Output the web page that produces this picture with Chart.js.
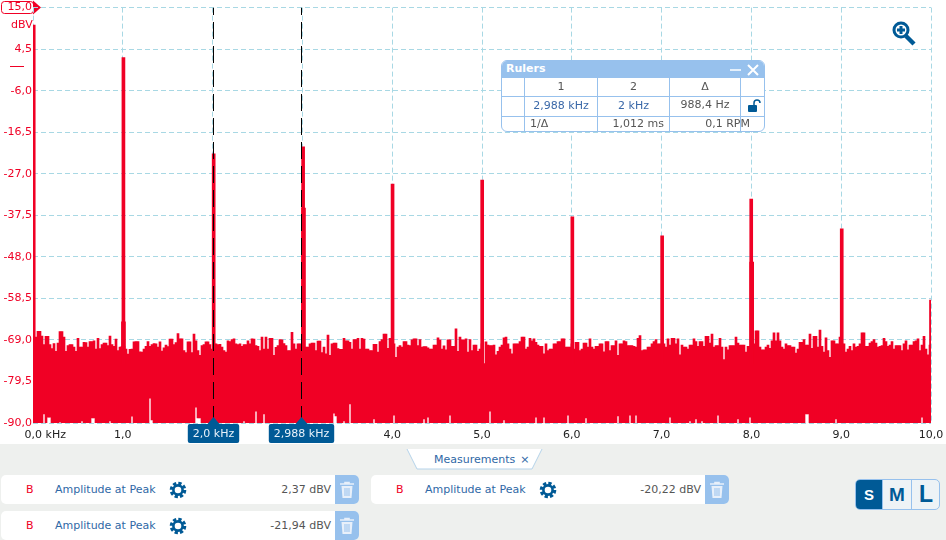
<!DOCTYPE html>
<html>
<head>
<meta charset="utf-8">
<title>Spectrum</title>
<script src="https://cdn.jsdelivr.net/npm/chart.js@4/dist/chart.umd.min.js"></script>
<style>
  html, body { margin: 0; padding: 0; }
  body { width: 946px; height: 540px; overflow: hidden; position: relative; background: #fff; font-family: "DejaVu Sans", sans-serif; font-size: 11px; }
  canvas { position: absolute; left: 0; top: 0; }
  .abs { position: absolute; }
  #footer { left: 0; top: 444px; width: 946px; height: 96px; background: #eef0ee; }
  .card { position: absolute; width: 358px; height: 29px; background: #fff; border-radius: 5px; line-height: 29px; }
  .card .ch { position: absolute; left: 25px; color: #f00025; }
  .card .name { position: absolute; left: 54px; color: #2f68a6; }
  .card .val { position: absolute; right: 28px; color: #555; }
  .card .del { position: absolute; right: 0; top: 0; width: 24px; height: 29px; background: #97c1ed; border-radius: 0 5px 5px 0; }
  .card svg { position: absolute; }
  #rulers { left: 501px; top: 60px; width: 262px; height: 70px; background: #fff; border: 1px solid #97c1ed; border-radius: 6px; overflow: hidden; color: #555; }
  #rulers .head { position: absolute; left: 0; top: 0; width: 262px; height: 17px; background: #97c1ed; color: #fff; font-weight: bold; line-height: 16px; padding-left: 4px; font-size: 11px; }
  #rulers .v { position: absolute; top: 16px; width: 1px; height: 54px; background: #97c1ed; }
  #rulers .h { position: absolute; left: 0; width: 262px; height: 1px; background: #97c1ed; }
  #rulers .t { position: absolute; text-align: center; line-height: 16px; white-space: nowrap; }
  #sml { left: 855px; top: 479px; width: 83px; height: 29px; border: 1px solid #97c1ed; border-radius: 5px; overflow: hidden; background: #eef3f6; font-family: "Liberation Sans", sans-serif; font-weight: bold; color: #005a96; }
  #sml div { position: absolute; top: 0; height: 29px; text-align: center; line-height: 29px; }
</style>
</head>
<body>
<canvas id="spectrum" width="946" height="444"></canvas>

<div class="abs" style="left:11px;top:18px;color:#f00025;font-size:11px;">dBV</div>
<div class="abs" style="left:10px;top:66px;width:14px;height:1px;background:#f00025;"></div>

<svg class="abs" style="left:890px;top:20px;" width="28" height="28" viewBox="0 0 28 28">
  <line x1="16" y1="16" x2="24" y2="24" stroke="#005a96" stroke-width="4.5"/>
  <circle cx="11" cy="10" r="7" fill="#fff" stroke="#005a96" stroke-width="3"/>
  <path d="M7 10h8M11 6v8" stroke="#005a96" stroke-width="3"/>
</svg>

<div id="rulers" class="abs">
  <div class="head">Rulers</div>
  <svg class="abs" style="left:227px;top:2px;" width="34" height="14" viewBox="0 0 34 14">
    <line x1="1" y1="7" x2="12" y2="7" stroke="#fff" stroke-width="1.5"/>
    <path d="M19 2l10 10M29 2l-10 10" stroke="#fff" stroke-width="2"/>
  </svg>
  <div class="h" style="top:35px;"></div>
  <div class="h" style="top:55px;"></div>
  <div class="v" style="left:22px;"></div>
  <div class="v" style="left:95px;"></div>
  <div class="v" style="left:167px;"></div>
  <div class="v" style="left:238px;"></div>
  <div class="t" style="left:23px;width:72px;top:18px;">1</div>
  <div class="t" style="left:96px;width:71px;top:18px;">2</div>
  <div class="t" style="left:168px;width:70px;top:18px;">Δ</div>
  <div class="t" style="left:23px;width:72px;top:37px;color:#3a68a8;">2,988 kHz</div>
  <div class="t" style="left:96px;width:71px;top:37px;color:#3a68a8;">2 kHz</div>
  <div class="t" style="left:168px;width:70px;top:36px;">988,4 Hz</div>
  <svg class="abs" style="left:245px;top:38px;" width="14" height="14" viewBox="0 0 14 14">
    <path d="M7 7V4a3 3 0 0 1 6 0" fill="none" stroke="#005a96" stroke-width="1.5"/>
    <rect x="1" y="6" width="9" height="7" rx="1" fill="#005a96"/>
  </svg>
  <div class="t" style="left:28px;top:55px;">1/Δ</div>
  <div class="t" style="right:100px;top:55px;">1,012 ms</div>
  <div class="t" style="right:14px;top:55px;">0,1 RPM</div>
</div>

<div id="footer" class="abs"></div>

<svg class="abs" style="left:405px;top:448px;" width="140" height="23" viewBox="0 0 140 23">
  <path d="M2 1L12 21H127L137 1Z" fill="#fff"/>
  <path d="M2 1L12 21H127L137 1" fill="none" stroke="#b5d3ea" stroke-width="1"/>
</svg>
<div class="abs" style="left:434px;top:453px;color:#2f68a6;white-space:nowrap;">Measurements<span style="margin-left:5px;">×</span></div>

<div id="cards"></div>

<div id="sml" class="abs">
  <div style="left:0;width:26px;background:#005a96;color:#fff;font-size:15px;">S</div>
  <div style="left:26px;width:28px;border-left:1px solid #97c1ed;font-size:19px;">M</div>
  <div style="left:55px;width:28px;border-left:1px solid #97c1ed;font-size:23px;">L</div>
</div>

<script>
// y axis, dBV
const yTickValues = [15, 4.5, -6, -16.5, -27, -37.5, -48, -58.5, -69, -79.5, -90];
const xTickValues = [0, 1, 2, 3, 4, 5, 6, 7, 8, 9, 10];

// tops of the noise floor, one bin every 10/449 kHz
const noiseHigh = [
  -71,-68.3,-66.8,-66.8,-68,-70.2,-68.1,-68.1,-70.2,-71.2,
  -69.9,-71.9,-69.8,-66.9,-66.9,-68.3,-71.9,-70.4,-70.2,-70.2,
  -70.8,-71.9,-68.6,-70.8,-70.8,-69.6,-69.7,-70.8,-69.4,-69.4,
  -69.2,-71.3,-68.6,-71.2,-70.2,-69.8,-69.8,-70.4,-68,-70.2,
  -70.6,-68.8,-71.7,-70.8,-70.6,-70.6,-71.3,-72.6,-71.4,-71.3,
  -69.5,-69.4,-69.4,-72,-72.1,-71.3,-70.6,-69.4,-70.6,-70.2,
  -69.9,-70,-70.8,-69.5,-71.8,-71,-70.3,-70.7,-68.8,-68.8,
  -70.2,-69.7,-67.4,-68.7,-68.7,-71.7,-72.2,-69.5,-69.5,-72.2,
  -67.5,-69.2,-71.7,-72.9,-70.4,-70.2,-69.5,-69.5,-70.2,-71.3,
  -70,-70,-70.2,-70.1,-70.8,-71.7,-72.1,-69.2,-69.4,-68.9,
  -68.7,-70,-70.2,-70,-70.6,-70.2,-70.2,-69.2,-70,-68.7,
  -68.8,-70.4,-70.6,-71.7,-68.3,-71.3,-68.3,-71.3,-68.6,-68.6,
  -72.9,-70.9,-70.4,-68.9,-69,-69.9,-70.4,-71.7,-71.7,-67.1,
  -70,-71.3,-70,-70,-70.8,-70.8,-70.8,-70.8,-70,-69.8,
  -69.8,-71.7,-69.3,-69.3,-72.2,-70.8,-72.5,-67.8,-72.9,-70,
  -69.8,-69.8,-71.2,-71.4,-71.4,-68.6,-69.2,-69.2,-69.6,-71.3,
  -68.9,-68.9,-68.6,-71.3,-68.6,-68.8,-71.3,-71.3,-71.7,-71.7,
  -70.1,-70.1,-72.1,-69.4,-68.9,-67.5,-67.5,-71.1,-68.6,-70,
  -70,-73.4,-70.8,-70.4,-70.8,-69.4,-69.4,-70.3,-70.4,-69,
  -68.7,-68.7,-70.4,-68.9,-70.8,-70.7,-70.7,-71,-71.3,-71.3,
  -70.3,-70.3,-68.5,-69,-71.3,-70.5,-71.5,-69,-69,-70.6,
  -70.6,-66.2,-71.9,-68.3,-69,-69,-68.7,-72.1,-68.9,-71.7,
  -70.3,-70.3,-71.9,-71.3,-70,-75,-69.5,-70.3,-70.4,-70.4,
  -70.3,-72.8,-71.9,-70.8,-70.3,-68.5,-68.3,-70,-71.3,-72.5,
  -70,-70,-70,-69.4,-68.3,-68.3,-71.3,-70.8,-68.6,-69.2,
  -68.7,-69.6,-70.3,-70.6,-70.6,-72.5,-70,-71.7,-71.3,-71.3,
  -70,-70,-69.4,-69.4,-68.7,-68.7,-70.8,-70.8,-70.8,-70,
  -71.3,-69.6,-69.6,-71.7,-71.3,-69.8,-69.8,-70.8,-68.7,-70.8,
  -71.3,-70.6,-70.6,-70,-70,-72,-69.4,-69.4,-71.7,-70.4,
  -70.4,-69.2,-72.9,-70,-70,-69.2,-69.4,-70.4,-70.4,-70.4,
  -70.6,-70.8,-68.6,-67.9,-71.7,-71.5,-71.5,-70.8,-70.8,-70,
  -69.4,-68.9,-70,-70,-70,-70,-70.8,-68.7,-70.3,-68.6,
  -68.6,-70,-68.7,-72.8,-70.3,-70.8,-70.8,-71.3,-70.3,-70.3,
  -68.7,-69.4,-70.6,-69.4,-69.4,-70.6,-68.1,-68.1,-69.8,-67.5,
  -70.8,-70.4,-70.4,-68.6,-70.8,-74,-70.8,-71.5,-70.4,-70.4,
  -70.4,-68.3,-69.8,-70.3,-70.3,-70.3,-72.1,-70.6,-70.6,-70,
  -70,-66.7,-66.7,-70.8,-71.5,-71.5,-70.8,-70.3,-71.1,-69.2,
  -67.2,-69.2,-67.2,-69.2,-70.8,-71.3,-70,-70.4,-70.4,-70.8,
  -70.8,-72.3,-71.3,-69.6,-69.6,-68.9,-70.3,-70.3,-67.5,-71.1,
  -68.1,-68.1,-70.8,-66.5,-70.6,-72.1,-68.5,-71.7,-73.4,-69.2,
  -69.2,-70,-70,-68.3,-70,-70,-72.1,-71.3,-70.6,-71.7,
  -70,-70.8,-70.6,-70,-67.2,-67.2,-70.6,-70.6,-69.8,-69.4,
  -68.9,-69.8,-70.8,-70.6,-70.4,-68.6,-69.4,-70.6,-70.3,-69.4,
  -71.3,-70.4,-70.4,-70.4,-71.7,-70,-69.2,-71.5,-70.3,-70.3,
  -69.4,-69.2,-68.7,-71.7,-70.3,-68.1,-71.3,-72.8,-70.3
];

// bins whose bottom does not reach -90
const dipBins = [5,7,8,13,24,29,30,38,49,58,59,81,82,83,105,111,115,150,151,155,158,170,180,195,197,208,228,235,251,255,267,276,292,298,301,318,328,331,334,342,352,358,386,387,401,444];
const dipLows = [-87.7,-88.5,-88.5,-89.7,-89.5,-88.7,-88.7,-89.5,-88.3,-83.7,-89.2,-86,-88.7,-88.7,-89.5,-87,-87.7,-87.5,-88.2,-89.5,-85.2,-89,-88,-89,-88.5,-88,-87,-89.2,-88.5,-88.5,-88,-88.7,-88.2,-88,-88,-88.5,-89.5,-89,-89.5,-88,-89,-88.5,-87.7,-87.7,-89,-88.5];

// harmonics
const peakFreqs = [0.008, 1.007, 2.012, 3.008, 4.004, 5.002, 6.006, 7.006, 7.998, 9.006, 10.0];
const peakValues = [10.6, 2.37, -21.94, -20.22, -29.6, -28.6, -37.9, -42.7, -33.4, -40.9, -58.9];
const shoulderFreqs = [1.007, 3.012, 8.003];
const shoulderValues = [-64.4, -35.7, -49.3];

// rulers
const rulerFreqs = [2.01, 2.99];
const rulerLabels = ['2,0 kHz', '2,988 kHz'];

// measurements panel
const measureValues = ['2,37 dBV', '-20,22 dBV', '-21,94 dBV'];
const measureLefts = [1, 371, 1];
const measureTops = [475, 475, 511];

const RED = '#f00025';
const BLUE = '#005a96';
const GRID = '#a8d8e4';
const binKHz = 10 / 449;

const noiseBars = noiseHigh.map((hi, i) => {
  const d = dipBins.indexOf(i);
  return { x: (i + 0.5) * binKHz, y: [d >= 0 ? dipLows[d] : -90, hi] };
});

function fmt(v) {
  return v.toFixed(1).replace('.', ',');
}

// red tag around the top tick, flags under the rulers
const overlayPlugin = {
  id: 'overlay',
  beforeDraw(chart) {
    const c = chart.ctx;
    c.save();
    c.strokeStyle = RED;
    c.fillStyle = RED;
    c.lineWidth = 1;
    c.beginPath();
    c.roundRect(1.5, 1.5, 32, 12, 3);
    c.stroke();
    c.beginPath();
    c.moveTo(33, 0.5);
    c.lineTo(41, 7.5);
    c.lineTo(33, 14.5);
    c.closePath();
    c.fill();
    c.restore();
  },
  afterDraw(chart) {
    const c = chart.ctx;
    c.save();
    c.font = '11px "DejaVu Sans"';
    c.textAlign = 'center';
    c.textBaseline = 'middle';
    rulerFreqs.forEach((f, i) => {
      const x = chart.scales.x.getPixelForValue(f);
      const w = c.measureText(rulerLabels[i]).width + 10;
      c.fillStyle = BLUE;
      c.beginPath();
      c.roundRect(x - w / 2, 424, w, 19, 2);
      c.fill();
      c.beginPath();
      c.moveTo(x, 417);
      c.lineTo(x - 6, 424);
      c.lineTo(x + 6, 424);
      c.closePath();
      c.fill();
      c.fillStyle = '#e8f2fa';
      c.fillText(rulerLabels[i], x, 434);
    });
    c.restore();
  }
};

new Chart(document.getElementById('spectrum').getContext('2d'), {
  type: 'bar',
  data: {
    datasets: [
      {
        label: 'Rulers',
        type: 'line',
        order: 0,
        data: [
          { x: rulerFreqs[0], y: -90 }, { x: rulerFreqs[0], y: 15 }, { x: NaN, y: NaN },
          { x: rulerFreqs[1], y: -90 }, { x: rulerFreqs[1], y: 15 }
        ],
        borderColor: '#000',
        borderWidth: 1,
        borderDash: [17, 7],
        pointRadius: 0,
        spanGaps: false
      },
      {
        label: 'Peaks',
        order: 1,
        data: peakFreqs.map((f, i) => ({ x: f, y: [-75, peakValues[i]] })),
        backgroundColor: RED,
        barThickness: 3
      },
      {
        label: 'Shoulders',
        order: 2,
        data: shoulderFreqs.map((f, i) => ({ x: f, y: [-75, shoulderValues[i]] })),
        backgroundColor: RED,
        barThickness: 4
      },
      {
        label: 'B',
        order: 3,
        data: noiseBars,
        backgroundColor: RED,
        barThickness: 2
      }
    ]
  },
  plugins: [overlayPlugin],
  options: {
    responsive: false,
    animation: false,
    grouped: false,
    layout: { padding: { left: 0, right: 15, top: 7, bottom: 0 } },
    plugins: { legend: { display: false }, tooltip: { enabled: false } },
    scales: {
      x: {
        type: 'linear',
        min: 0,
        max: 10,
        offset: false,
        afterBuildTicks(axis) { axis.ticks = xTickValues.map(v => ({ value: v })); },
        afterFit(axis) {
          axis.height = 21;
          axis.paddingLeft = 0;
          axis.paddingRight = 0;
        },
        grid: { color: GRID, lineWidth: 1, drawTicks: false, offset: false },
        border: { display: false, dash: [5, 3] },
        ticks: {
          autoSkip: false,
          maxRotation: 0,
          padding: 6,
          color: '#222',
          font: { family: '"DejaVu Sans"', size: 11 },
          callback: v => (v === 0 ? '       0,0 kHz' : fmt(v))
        }
      },
      y: {
        min: -90,
        max: 15,
        afterBuildTicks(axis) { axis.ticks = yTickValues.map(v => ({ value: v })); },
        afterFit(axis) { axis.width = 33; },
        grid: { color: GRID, lineWidth: 1, drawTicks: false },
        border: { display: false, dash: [5, 3] },
        ticks: {
          autoSkip: false,
          padding: 1,
          color: RED,
          font: { family: '"DejaVu Sans"', size: 11 },
          callback: v => fmt(v)
        }
      }
    }
  }
});

const gear = '<svg style="left:168px;top:6px;" width="18" height="18" viewBox="0 0 18 18"><circle cx="9" cy="9" r="6.6" fill="none" stroke="#005a96" stroke-width="3.4" stroke-dasharray="3.2 2"/><circle cx="9" cy="9" r="4.6" fill="none" stroke="#005a96" stroke-width="2.6"/></svg>';
const trash = '<svg style="left:4px;top:6px;" width="16" height="18" viewBox="0 0 16 18"><path d="M1 3h14M6 3V1.5h4V3" stroke="#e8f0fa" stroke-width="1.6" fill="none"/><path d="M2.5 5h11l-1 12h-9z" fill="#e8f0fa"/><path d="M6 7v8M8 7v8M10 7v8" stroke="#97c1ed" stroke-width="1"/></svg>';

// one card per measurement
document.getElementById('cards').innerHTML = measureValues.map((v, i) =>
  '<div class="card" style="left:' + measureLefts[i] + 'px;top:' + measureTops[i] + 'px;">' +
  '<span class="ch">B</span><span class="name">Amplitude at Peak</span>' + gear +
  '<span class="val">' + v + '</span><div class="del">' + trash + '</div></div>'
).join('');
</script>
</body>
</html>
